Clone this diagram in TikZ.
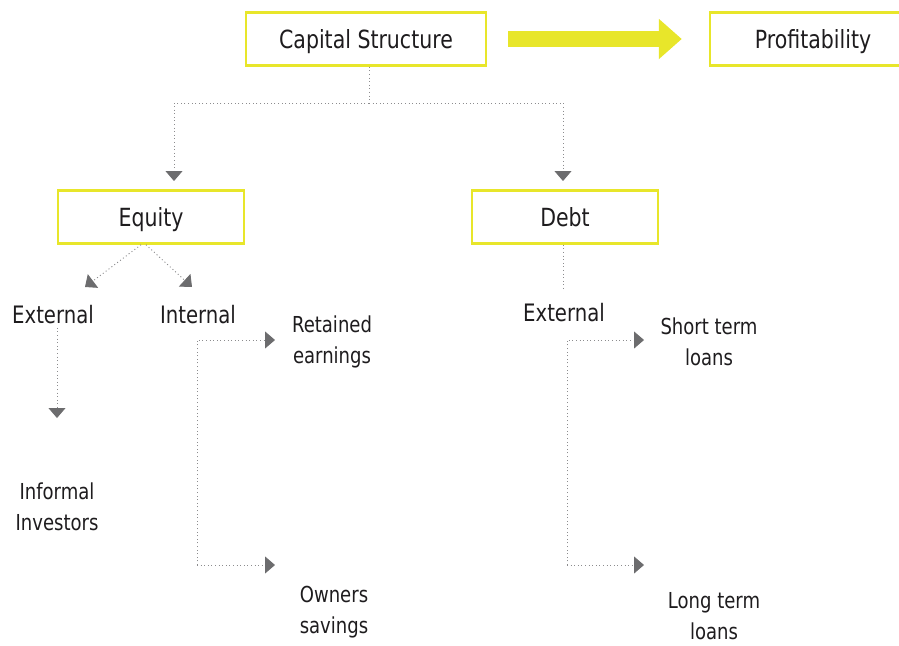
\documentclass[tikz,border=0pt]{standalone}
\usepackage{fontspec}
\setmainfont{DejaVu Sans}[FakeStretch=0.82]
\usepackage{tikz}
\usetikzlibrary{positioning, calc, arrows.meta}
\definecolor{boxyellow}{RGB}{232,230,42}
\definecolor{linkgray}{RGB}{140,140,142}
\definecolor{tipgray}{RGB}{108,108,110}
\definecolor{inkdark}{RGB}{30,28,30}
\tikzset{box/.style={draw=boxyellow, line width=2.5pt, fill=white, minimum width=240pt, minimum height=53pt, text height=18pt, text depth=0pt, text=inkdark, font=\fontsize{25}{30}\selectfont}}
\tikzset{smallbox/.style={box, minimum width=186pt}}
\tikzset{label/.style={text=inkdark, font=\fontsize{24}{28}\selectfont}}
\tikzset{leaf/.style={text=inkdark, align=center, font=\fontsize{22}{31}\selectfont}}
\tikzset{link/.style={draw=linkgray, line width=0.9pt, dash pattern=on 1pt off 2.6pt}}
\tikzset{tip/.style={-{Triangle[length=10pt,width=17pt,fill=tipgray,color=tipgray]}}}

\begin{document}
\begin{tikzpicture}[x=1pt, y=-1pt]

      \useasboundingbox (0,0) rectangle (899,645);

      % BOXES

      \node[box] (capital) at (366,39) {Capital Structure};
      \node[smallbox, minimum width=206pt] (profit) at (813,39) {Profitability};
      \node[smallbox] (equity) at (151,217) {Equity};
      \node[smallbox] (debt) at (565,217) {Debt};

      % LABELS

      \node[label] (eqExt) at (53,315) {External};
      \node[label] (eqInt) at (198,315) {Internal};
      \node[label] (dbExt) at (564,313) {External};

      \node[leaf] (informal) at (57,507) {Informal\\Investors};
      \node[leaf] (retained) at (332,342) {Retained\\earnings};
      \node[leaf] (owners) at (334,612) {Owners\\savings};
      \node[leaf] (short) at (709,342) {Short term\\loans};
      \node[leaf] (long) at (714,616) {Long term\\loans};

      % POINTS

      \coordinate (split) at (369,103);
      \coordinate (eqTip) at (174,181);
      \coordinate (dbTip) at (563,181);
      \coordinate (extTip) at (85,287);
      \coordinate (intTip) at (192,287);
      \coordinate (infTip) at (57,418);
      \coordinate (intTop) at (197,340);
      \coordinate (intBot) at (197,565);
      \coordinate (retTip) at (275,340);
      \coordinate (ownTip) at (275,565);
      \coordinate (debtEnd) at (563,290);
      \coordinate (dbTop) at (567,340);
      \coordinate (dbBot) at (567,565);
      \coordinate (shortTip) at (644,340);
      \coordinate (longTip) at (644,565);

      % ARROWS

      \draw[boxyellow, line width=16pt, -{Triangle[length=23pt,width=39pt]},
            shorten <=21pt, shorten >=27pt] (capital.east) -- (profit.west);

      \draw[link] (capital.south -| split) -- (split);
      \draw[link, tip] (split) -| (eqTip);
      \draw[link, tip] (split) -| (dbTip);

      \draw[link, tip] ([xshift=-10pt]equity.south) -- (extTip);
      \draw[link, tip] ([xshift=-5pt]equity.south) -- (intTip);
      \draw[link, tip] (eqExt.south -| infTip) -- (infTip);
      \draw[link, tip] (intBot) -- (intTop) -- (retTip);
      \draw[link, tip] (intBot) -- (ownTip);

      \draw[link] (debt.south -| debtEnd) -- (debtEnd);
      \draw[link, tip] (dbBot) -- (dbTop) -- (shortTip);
      \draw[link, tip] (dbBot) -- (longTip);
\end{tikzpicture}
\end{document}
